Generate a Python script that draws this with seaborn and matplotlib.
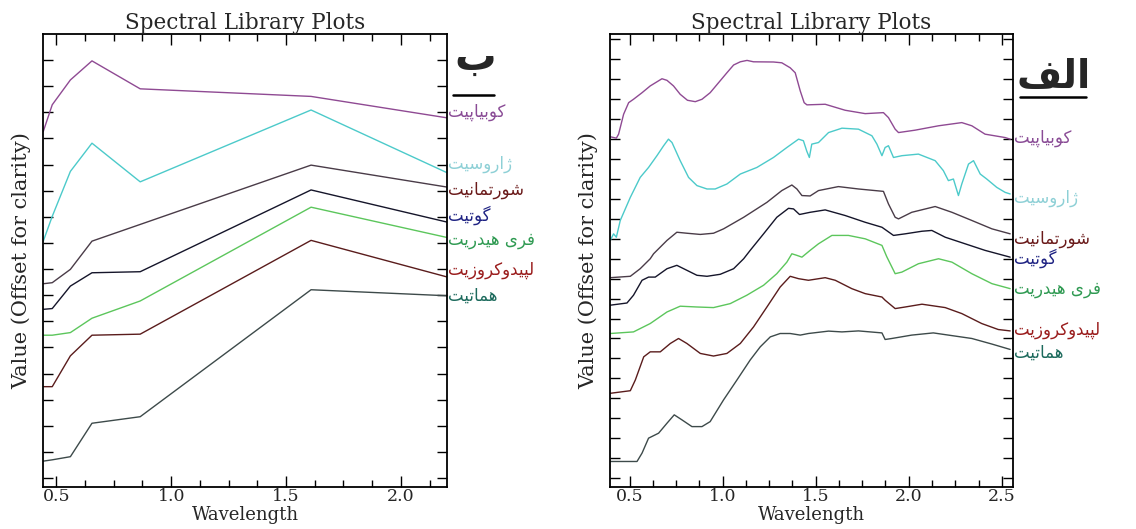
import numpy as np
import pandas as pd
import matplotlib
matplotlib.use("Agg")
import matplotlib.pyplot as plt
from matplotlib.ticker import MultipleLocator, NullFormatter
from matplotlib.lines import Line2D
from matplotlib.transforms import offset_copy
import seaborn as sns

# ---------------- data ----------------
minerals = ["کوبیاپیت", "ژاروسیت", "شورتمانیت", "گوتیت", "فری هیدریت", "لپیدوکروزیت", "هماتیت"]
line_colors = ["#8f4a93", "#4ccaca", "#4a3c48", "#15152a", "#5cc65c", "#5a1c1c", "#3d4a4a"]
label_colors = ["#8a4c96", "#8ed0d6", "#6a1a1a", "#1f2383", "#2f9a52", "#9a1c1c", "#1c6a5c"]

# panel b: resampled (Landsat-8 OLI band centres)
bands = [0.443, 0.482, 0.561, 0.655, 0.865, 1.609, 2.201]
kub_b = [1.427, 1.529, 1.624, 1.697, 1.590, 1.561, 1.479]
jar_b = [1.007, 1.102, 1.274, 1.382, 1.234, 1.509, 1.269]
sch_b = [0.844, 0.848, 0.899, 1.007, 1.071, 1.298, 1.214]
goe_b = [0.746, 0.749, 0.835, 0.886, 0.890, 1.203, 1.080]
fer_b = [0.647, 0.647, 0.657, 0.712, 0.778, 1.137, 1.021]
lep_b = [0.450, 0.450, 0.568, 0.647, 0.651, 1.010, 0.870]
hem_b = [0.165, 0.170, 0.182, 0.310, 0.335, 0.821, 0.798]

# panel alef: full library spectra
kub_w = [0.396, 0.429, 0.441, 0.468, 0.495, 0.521, 0.567, 0.611, 0.674, 0.701, 0.736, 0.772, 0.811, 0.853,
         0.889, 0.933, 0.978, 1.023, 1.059, 1.095, 1.131, 1.166, 1.273, 1.318, 1.363, 1.390, 1.417, 1.438,
         1.453, 1.551, 1.658, 1.766, 1.864, 1.891, 1.927, 1.945, 2.034, 2.160, 2.285, 2.339, 2.410, 2.518, 2.545]
kub_v = [1.812, 1.805, 1.825, 1.925, 1.983, 2.000, 2.033, 2.067, 2.103, 2.095, 2.067, 2.025, 1.995, 1.988,
         2.000, 2.033, 2.083, 2.133, 2.172, 2.188, 2.195, 2.188, 2.187, 2.183, 2.158, 2.133, 2.042, 1.983,
         1.972, 1.975, 1.945, 1.928, 1.933, 1.908, 1.850, 1.833, 1.845, 1.867, 1.883, 1.867, 1.825, 1.808, 1.800]

jar_w = [0.396, 0.414, 0.429, 0.450, 0.504, 0.557, 0.602, 0.647, 0.683, 0.709, 0.728, 0.772, 0.817, 0.862,
         0.916, 0.960, 1.023, 1.095, 1.184, 1.273, 1.345, 1.408, 1.434, 1.452, 1.466, 1.479, 1.515, 1.569,
         1.641, 1.730, 1.802, 1.829, 1.856, 1.873, 1.891, 1.918, 1.963, 2.052, 2.142, 2.186, 2.213, 2.240,
         2.267, 2.285, 2.321, 2.348, 2.384, 2.419, 2.473, 2.518, 2.545]
jar_v = [1.292, 1.325, 1.308, 1.392, 1.508, 1.608, 1.658, 1.717, 1.767, 1.800, 1.783, 1.692, 1.608, 1.567,
         1.550, 1.550, 1.575, 1.625, 1.658, 1.708, 1.758, 1.800, 1.792, 1.740, 1.708, 1.775, 1.783, 1.833,
         1.855, 1.850, 1.817, 1.775, 1.717, 1.758, 1.767, 1.708, 1.717, 1.725, 1.692, 1.642, 1.592, 1.600,
         1.517, 1.575, 1.675, 1.692, 1.625, 1.600, 1.558, 1.533, 1.525]

sch_w = [0.396, 0.504, 0.557, 0.611, 0.629, 0.701, 0.754, 0.808, 0.880, 0.951, 1.005, 1.113, 1.238, 1.318,
         1.372, 1.399, 1.426, 1.470, 1.515, 1.622, 1.730, 1.864, 1.891, 1.927, 1.945, 2.016, 2.142, 2.232,
         2.339, 2.447, 2.545]
sch_v = [1.105, 1.112, 1.150, 1.200, 1.225, 1.292, 1.333, 1.328, 1.322, 1.328, 1.350, 1.408, 1.483, 1.542,
         1.570, 1.550, 1.517, 1.515, 1.542, 1.562, 1.550, 1.538, 1.475, 1.408, 1.400, 1.433, 1.462, 1.433,
         1.392, 1.350, 1.325]

goe_w = [0.396, 0.486, 0.521, 0.567, 0.602, 0.638, 0.701, 0.754, 0.808, 0.862, 0.916, 0.987, 1.059, 1.113,
         1.148, 1.220, 1.291, 1.354, 1.381, 1.413, 1.470, 1.551, 1.658, 1.766, 1.856, 1.918, 1.981, 2.071,
         2.124, 2.196, 2.303, 2.410, 2.545]
goe_v = [0.967, 0.978, 1.017, 1.092, 1.108, 1.108, 1.150, 1.167, 1.142, 1.117, 1.112, 1.122, 1.150, 1.200,
         1.242, 1.325, 1.408, 1.453, 1.450, 1.422, 1.433, 1.445, 1.417, 1.383, 1.358, 1.317, 1.325, 1.338,
         1.342, 1.308, 1.275, 1.242, 1.208]

fer_w = [0.396, 0.521, 0.611, 0.701, 0.772, 0.862, 0.951, 1.041, 1.130, 1.220, 1.291, 1.345, 1.372, 1.399,
         1.426, 1.470, 1.515, 1.587, 1.676, 1.766, 1.856, 1.882, 1.927, 1.963, 2.052, 2.160, 2.232, 2.339,
         2.447, 2.545]
fer_v = [0.825, 0.833, 0.875, 0.933, 0.962, 0.958, 0.955, 0.975, 1.017, 1.067, 1.125, 1.183, 1.225, 1.217,
         1.208, 1.242, 1.275, 1.317, 1.317, 1.300, 1.267, 1.210, 1.125, 1.133, 1.175, 1.200, 1.183, 1.125,
         1.075, 1.050]

lep_w = [0.396, 0.504, 0.531, 0.576, 0.611, 0.665, 0.719, 0.763, 0.808, 0.880, 0.951, 1.023, 1.095, 1.166,
         1.238, 1.309, 1.363, 1.408, 1.461, 1.551, 1.605, 1.694, 1.766, 1.856, 1.873, 1.927, 1.981, 2.071,
         2.196, 2.285, 2.392, 2.481, 2.545]
lep_v = [0.525, 0.538, 0.592, 0.708, 0.733, 0.733, 0.775, 0.800, 0.775, 0.725, 0.712, 0.725, 0.775, 0.858,
         0.958, 1.058, 1.112, 1.100, 1.092, 1.105, 1.092, 1.050, 1.025, 1.008, 0.992, 0.950, 0.958, 0.972,
         0.955, 0.925, 0.875, 0.845, 0.838]

hem_w = [0.396, 0.540, 0.567, 0.602, 0.656, 0.701, 0.740, 0.781, 0.835, 0.889, 0.933, 1.005, 1.077, 1.148,
         1.202, 1.256, 1.309, 1.363, 1.417, 1.461, 1.569, 1.641, 1.730, 1.856, 1.873, 1.909, 2.016, 2.132,
         2.213, 2.339, 2.447, 2.545]
hem_v = [0.183, 0.183, 0.225, 0.300, 0.325, 0.375, 0.417, 0.392, 0.358, 0.358, 0.383, 0.492, 0.592, 0.692,
         0.758, 0.808, 0.825, 0.825, 0.817, 0.825, 0.837, 0.833, 0.838, 0.828, 0.795, 0.800, 0.817, 0.828,
         0.817, 0.800, 0.772, 0.745]

xticks_b = [0.5, 1.0, 1.5, 2.0]
xticks_a = [0.5, 1.0, 1.5, 2.0, 2.5]
title_text = "Spectral Library Plots"
xlabel_text = "Wavelength"
ylabel_text = "Value (Offset for clarity)"
panel_b = "ب"
panel_a = "الف"

# label nudges (points, up positive) so the names do not collide
nudge_b = [4, 6, -2, 5, -2, 5, 0]
nudge_a = [1, -3, -4, -1, 0, 1, -2]

# ---------------- Persian shaping (contextual forms, visual order) ----------------
FORMS = {
    'ا': ('\uFE8D', '\uFE8E', None, None),
    'ب': ('\uFE8F', '\uFE90', '\uFE91', '\uFE92'),
    'پ': ('\uFB56', '\uFB57', '\uFB58', '\uFB59'),
    'ت': ('\uFE95', '\uFE96', '\uFE97', '\uFE98'),
    'د': ('\uFEA9', '\uFEAA', None, None),
    'ر': ('\uFEAD', '\uFEAE', None, None),
    'ز': ('\uFEAF', '\uFEB0', None, None),
    'ژ': ('\uFB8A', '\uFB8B', None, None),
    'س': ('\uFEB1', '\uFEB2', '\uFEB3', '\uFEB4'),
    'ش': ('\uFEB5', '\uFEB6', '\uFEB7', '\uFEB8'),
    'ف': ('\uFED1', '\uFED2', '\uFED3', '\uFED4'),
    'ک': ('\uFB8E', '\uFB8F', '\uFB90', '\uFB91'),
    'گ': ('\uFB92', '\uFB93', '\uFB94', '\uFB95'),
    'ل': ('\uFEDD', '\uFEDE', '\uFEDF', '\uFEE0'),
    'م': ('\uFEE1', '\uFEE2', '\uFEE3', '\uFEE4'),
    'ن': ('\uFEE5', '\uFEE6', '\uFEE7', '\uFEE8'),
    'ه': ('\uFEE9', '\uFEEA', '\uFEEB', '\uFEEC'),
    'و': ('\uFEED', '\uFEEE', None, None),
    'ی': ('\uFBFC', '\uFBFD', '\uFBFE', '\uFBFF'),
}


def shape(text):
    out = []
    n = len(text)
    for i, c in enumerate(text):
        if c not in FORMS:
            out.append(c)
            continue
        prev = text[i - 1] if i > 0 else None
        nxt = text[i + 1] if i < n - 1 else None
        jp = prev in FORMS and FORMS[prev][2] is not None
        jn = FORMS[c][2] is not None and nxt in FORMS
        iso, fin, ini, med = FORMS[c]
        out.append(med if (jp and jn) else fin if jp else ini if jn else iso)
    return "".join(reversed(out))


# ---------------- frames ----------------
def long_df(xs, ys_list):
    rows = []
    for name, ys in zip(minerals, ys_list):
        for x, y in zip(xs, ys):
            rows.append((name, x, y))
    return pd.DataFrame(rows, columns=["mineral", "wl", "val"])


df_b = long_df(bands, [kub_b, jar_b, sch_b, goe_b, fer_b, lep_b, hem_b])
full_w = [kub_w, jar_w, sch_w, goe_w, fer_w, lep_w, hem_w]
full_v = [kub_v, jar_v, sch_v, goe_v, fer_v, lep_v, hem_v]
df_a = pd.concat([pd.DataFrame({"mineral": m, "wl": w, "val": v})
                  for m, w, v in zip(minerals, full_w, full_v)], ignore_index=True)

# ---------------- plot ----------------
sns.set_theme(style="ticks")
plt.rcParams["font.family"] = ["DejaVu Serif"]
plt.rcParams["axes.linewidth"] = 1.3

fig = plt.figure(figsize=(11.36, 5.29), dpi=100)
ax_b = fig.add_axes([0.0381, 0.0794, 0.3554, 0.8554])
ax_a = fig.add_axes([0.5370, 0.0794, 0.3547, 0.8554])
palette = dict(zip(minerals, line_colors))

for ax, df, xlim, ylim, xt, nudge in [
    (ax_b, df_b, (0.443, 2.201), (0.066, 1.798), xticks_b, nudge_b),
    (ax_a, df_a, (0.395, 2.56), (0.055, 2.325), xticks_a, nudge_a),
]:
    sns.lineplot(data=df, x="wl", y="val", hue="mineral", palette=palette,
                 estimator=None, sort=False, legend=False, linewidth=1.0, ax=ax)
    ax.set_xlim(*xlim)
    ax.set_ylim(*ylim)
    ax.set_xticks(xt)
    ax.set_xticklabels([f"{t:.1f}" for t in xt], fontsize=12.5)
    ax.xaxis.set_minor_locator(MultipleLocator(0.125))
    ax.yaxis.set_major_locator(MultipleLocator(0.1))
    ax.yaxis.set_major_formatter(NullFormatter())
    ax.tick_params(axis="both", which="both", direction="in", top=True, right=True,
                   color="black", width=1.0)
    ax.tick_params(axis="x", which="major", length=8, pad=1)
    ax.tick_params(axis="x", which="minor", length=5)
    ax.tick_params(axis="y", which="major", length=7)
    for s in ax.spines.values():
        s.set_color("black")
    ax.set_title(title_text, fontsize=15.5, pad=4)
    ax.set_xlabel(xlabel_text, fontsize=13, labelpad=0.5)
    ax.set_ylabel(ylabel_text, fontsize=15, labelpad=5)
    # labels at the right end of each spectrum
    groups = df.groupby("mineral", sort=False)
    for name, lc, dy in zip(minerals, label_colors, nudge):
        last = groups.get_group(name)["val"].iloc[-1]
        tr = offset_copy(ax.get_yaxis_transform(), fig=fig, x=0, y=dy, units="points")
        ax.text(1.003, last, shape(name), transform=tr,
                ha="left", va="center", fontsize=12, color=lc,
                family=["DejaVu Sans"], clip_on=False)

# panel letters with underline
fig.text(0.418, 1 - 70 / 529, shape(panel_b), fontsize=30, fontweight="bold",
         family=["DejaVu Sans"], ha="center", va="baseline")
fig.text(0.9275, 1 - 88 / 529, shape(panel_a), fontsize=28, fontweight="bold",
         family=["DejaVu Sans"], ha="center", va="baseline")
fig.add_artist(Line2D([0.399, 0.435], [1 - 95 / 529, 1 - 95 / 529], color="black", lw=1.8,
                      transform=fig.transFigure))
fig.add_artist(Line2D([0.898, 0.956], [1 - 97 / 529, 1 - 97 / 529], color="black", lw=1.8,
                      transform=fig.transFigure))

fig.savefig("out.png", dpi=100)
